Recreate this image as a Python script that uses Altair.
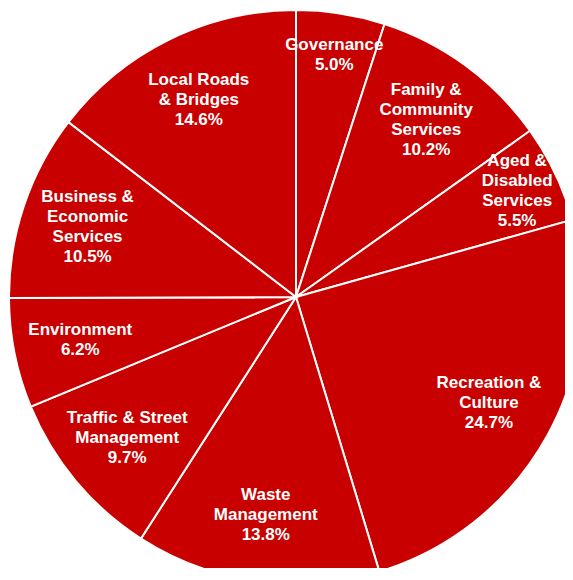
import altair as alt
import pandas as pd

categories = [
    "Governance",
    "Family &\nCommunity\nServices",
    "Aged &\nDisabled\nServices",
    "Recreation &\nCulture",
    "Waste\nManagement",
    "Traffic & Street\nManagement",
    "Environment",
    "Business &\nEconomic\nServices",
    "Local Roads\n& Bridges",
]
values = [5.0, 10.2, 5.5, 24.7, 13.8, 9.7, 6.2, 10.5, 14.6]

df = pd.DataFrame({"category": categories, "value": values, "idx": list(range(len(values)))})

RED = "#C80000"
CX, CY, R = 288, 289, 287
LINE_H = 20

pie = alt.Chart(df).mark_arc(color=RED, stroke="white", strokeWidth=2, outerRadius=R).encode(
    theta=alt.Theta("value:Q", stack=True),
    order=alt.Order("idx:Q"),
    x=alt.value(CX),
    y=alt.value(CY),
)

labels = (
    alt.Chart(df)
    .transform_window(cum="sum(value)", sort=[alt.SortField("idx")], frame=[None, 0])
    .transform_joinaggregate(total="sum(value)")
    .transform_calculate(
        ang="(datum.cum - datum.value / 2) / datum.total * 2 * PI",
        label="datum.category + '\\n' + format(datum.value, '.1f') + '%'",
        r="datum.value < 6 ? 245 : 220",
    )
    .transform_calculate(
        nlines="length(split(datum.label, '\\n'))",
    )
    .transform_calculate(
        px=f"{CX} + datum.r * sin(datum.ang)",
        py=f"{CY} - datum.r * cos(datum.ang) - (datum.nlines - 1) * {LINE_H} / 2",
    )
    .mark_text(
        color="white",
        font="Liberation Sans",
        fontWeight="bold",
        fontSize=17,
        lineHeight=LINE_H,
        lineBreak="\n",
        align="center",
        baseline="middle",
    )
    .encode(
        x=alt.X("px:Q", scale=None),
        y=alt.Y("py:Q", scale=None),
        text="label:N",
    )
)

chart = (
    alt.layer(pie, labels)
    .properties(width=557, height=560, padding=0, autosize=alt.AutoSizeParams(type="none"))
    .configure_view(strokeWidth=0)
)

chart.save("out.html", embed_options={"renderer": "svg", "actions": False})
